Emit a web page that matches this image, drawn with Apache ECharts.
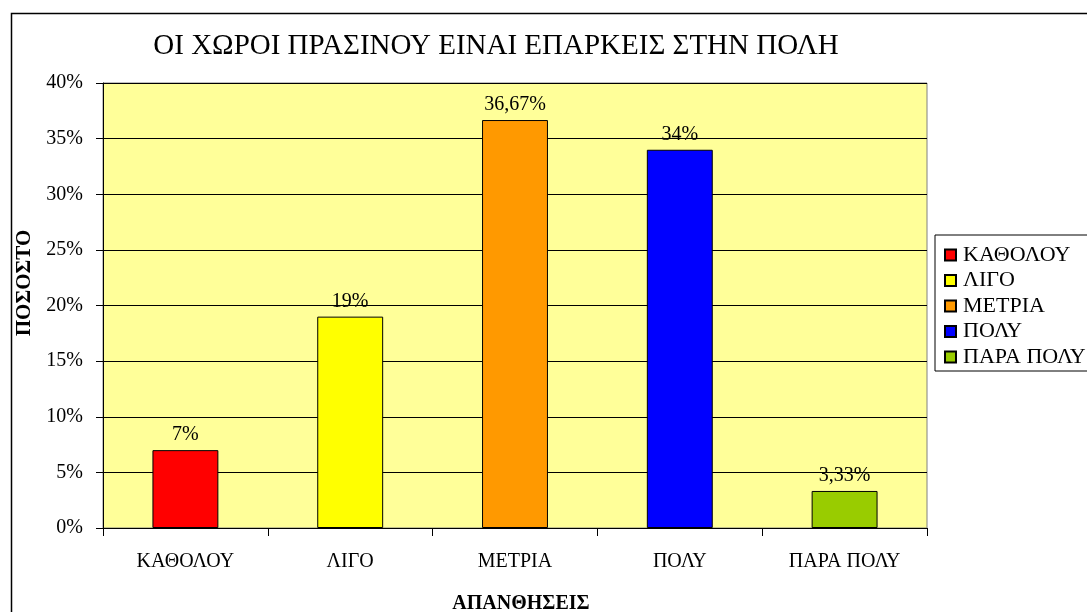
<!DOCTYPE html>
<html>
<head>
<meta charset="utf-8">
<script src="https://cdn.jsdelivr.net/npm/echarts@6/dist/echarts.min.js"></script>
<style>
  html, body { margin: 0; padding: 0; background: #fff; }
  #chart { width: 1087px; height: 612px; }
</style>
</head>
<body>
<div id="chart"></div>
<script>
// Survey answers and their shares (%)
const categories = ['ΚΑΘΟΛΟΥ', 'ΛΙΓΟ', 'ΜΕΤΡΙΑ', 'ΠΟΛΥ', 'ΠΑΡΑ ΠΟΛΥ'];
const values = [7, 19, 36.67, 34, 3.33];
const colors = ['#FF0000', '#FFFF00', '#FF9900', '#0000FF', '#99CC00'];

const FONT = '"Liberation Serif", "DejaVu Serif", serif';

// One series per answer so each gets its own legend entry; all stack in the same slot
const series = categories.map((name, i) => ({
  name: name,
  type: 'bar',
  stack: 'answers',
  barWidth: '40%',
  data: categories.map((_, j) => (j === i ? values[i] : '-')),
  itemStyle: { color: colors[i], borderColor: '#000', borderWidth: 1 },
  label: {
    show: true,
    position: 'top',
    distance: 5,
    color: '#000',
    fontFamily: FONT,
    fontSize: 20,
    formatter: p => String(p.value).replace('.', ',') + '%'
  }
}));

const chart = echarts.init(document.getElementById('chart'), null, { renderer: 'canvas' });
chart.setOption({
  animation: false,
  backgroundColor: '#fff',
  title: {
    text: 'ΟΙ ΧΩΡΟΙ ΠΡΑΣΙΝΟΥ ΕΙΝΑΙ ΕΠΑΡΚΕΙΣ ΣΤΗΝ ΠΟΛΗ',
    left: 491,
    top: 27,
    textAlign: 'center',
    textStyle: { fontFamily: FONT, fontSize: 29, fontWeight: 'normal', color: '#000' }
  },
  legend: {
    orient: 'vertical',
    left: 935,
    top: 235,
    data: categories,
    icon: 'rect',
    itemWidth: 11,
    itemHeight: 11,
    itemGap: 3.5,
    padding: [9, 60, 3, 9],
    borderColor: '#000',
    borderWidth: 1,
    backgroundColor: '#fff',
    textStyle: { fontFamily: FONT, fontSize: 22, lineHeight: 21, color: '#000', padding: [0, 0, 0, 2] }
  },
  grid: {
    left: 103,
    right: 160,
    top: 83,
    bottom: 84,
    outerBoundsMode: 'none',
    show: true,
    backgroundColor: '#FFFF99',
    borderColor: '#808080',
    borderWidth: 1
  },
  xAxis: {
    type: 'category',
    data: categories,
    name: 'ΑΠΑΝΘΗΣΕΙΣ',
    nameLocation: 'middle',
    nameGap: 66,
    nameTextStyle: { fontFamily: FONT, fontSize: 20, fontWeight: 'bold', color: '#000', padding: [0, 0, 0, 12] },
    axisLine: { lineStyle: { color: '#000', width: 1 } },
    axisTick: { show: true, length: 8, lineStyle: { color: '#000' } },
    axisLabel: { fontFamily: FONT, fontSize: 20, color: '#000', margin: 24 }
  },
  yAxis: {
    type: 'value',
    min: 0,
    max: 40,
    interval: 5,
    name: 'ΠΟΣΟΣΤΟ',
    nameLocation: 'middle',
    nameGap: 57,
    nameRotate: 90,
    nameTextStyle: { fontFamily: FONT, fontSize: 21, fontWeight: 'bold', color: '#000', padding: [0, 0, 0, 45] },
    axisLine: { show: true, lineStyle: { color: '#000', width: 1 } },
    axisTick: { show: true, length: 7, lineStyle: { color: '#000' } },
    axisLabel: { fontFamily: FONT, fontSize: 20, color: '#000', margin: 20, formatter: '{value}%' },
    splitLine: { show: true, lineStyle: { color: '#000', width: 1 } }
  },
  graphic: [{
    type: 'rect',
    silent: true,
    z: -1,
    shape: { x: 11.5, y: 13.5, width: 1200, height: 700 },
    style: { fill: 'none', stroke: '#000', lineWidth: 1.5 }
  }],
  series: series
});
</script>
</body>
</html>
